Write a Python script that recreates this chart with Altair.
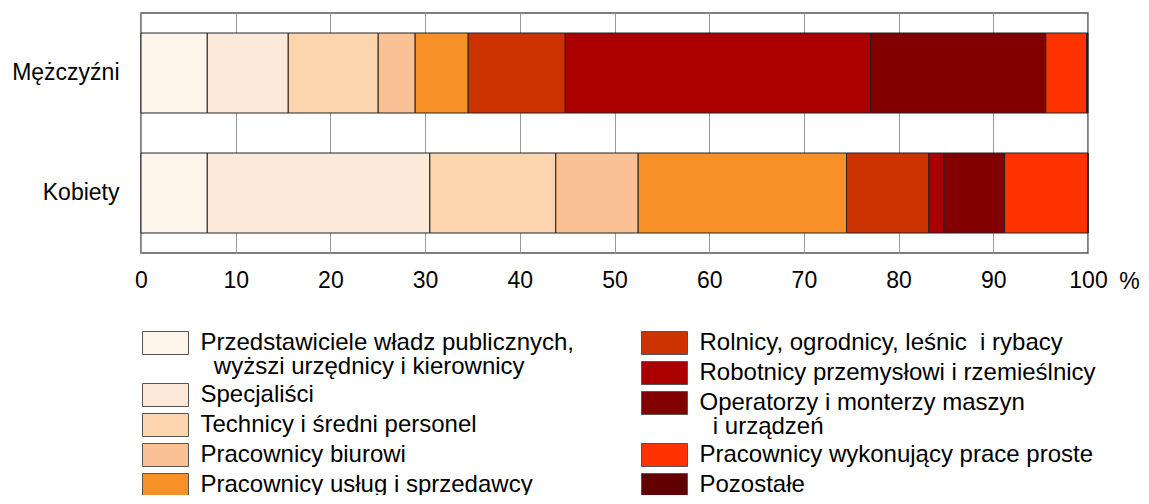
import altair as alt
import pandas as pd

groups = ["Mężczyźni", "Kobiety"]
categories = [
    "Przedstawiciele władz publicznych,\n\u200b\u00a0\u00a0wyższi urzędnicy i kierownicy",
    "Specjaliści",
    "Technicy i średni personel",
    "Pracownicy biurowi",
    "Pracownicy usług i sprzedawcy",
    "Rolnicy, ogrodnicy, leśnic\u00a0 i rybacy",
    "Robotnicy przemysłowi i rzemieślnicy",
    "Operatorzy i monterzy maszyn\n\u200b\u00a0\u00a0i urządzeń",
    "Pracownicy wykonujący prace proste",
    "Pozostałe",
]
colors = ["#FDF4EA", "#FCE9DA", "#FCD4AE", "#F9C194", "#F79027",
          "#CC3300", "#AA0000", "#820000", "#FF3300", "#600000"]
men = [7.0, 8.55, 9.5, 3.9, 5.6, 10.25, 32.25, 18.5, 4.3, 0.15]
women = [7.0, 23.5, 13.3, 8.7, 22.0, 8.7, 1.6, 6.4, 8.8, 0.0]
x_ticks = list(range(0, 101, 10))

rows = []
for g, vals in zip(groups, [men, women]):
    for i, (c, v) in enumerate(zip(categories, vals)):
        rows.append({"group": g, "category": c, "order": i, "value": v})
df = pd.DataFrame(rows)

FONT = "Liberation Sans"
FS = 23
LFS = 24

base = alt.Chart(df).transform_stack(
    stack="value", groupby=["group"], as_=["x0", "x1"],
    sort=[alt.SortField("order", order="ascending")],
)

x_enc = alt.X(
    "x0:Q",
    scale=alt.Scale(domain=[0, 100], nice=False),
    axis=alt.Axis(
        values=x_ticks, title="%", titleX=988, titleY=28, titleAlign="center",
        titleBaseline="middle", titleFontSize=FS, titleFontWeight="normal",
        titleFont=FONT, titleColor="black", titleAngle=0,
        labelFontSize=FS, labelFont=FONT, labelColor="black", labelPadding=16,
        labelFlush=False,
        ticks=False, domain=False, grid=True, gridColor="#999999", gridWidth=1,
    ),
)
y_enc = alt.Y(
    "group:N", sort=groups,
    scale=alt.Scale(paddingInner=1 / 3, paddingOuter=1 / 6),
    axis=alt.Axis(title=None, labelFontSize=FS, labelFont=FONT, labelColor="black",
                  labelPadding=22, ticks=False, domain=False, grid=False),
)

rect_path = "M-2,-1L2,-1L2,1L-2,1Z"
def legend(lx, ly):
    return alt.Legend(
        title=None, orient="none", legendX=lx, legendY=ly, padding=0,
        symbolType=rect_path, symbolSize=529, symbolOffset=11.5,
        symbolStrokeColor="#555555", symbolStrokeWidth=1, symbolOpacity=1,
        labelFontSize=LFS, labelFont=FONT, labelColor="black",
        labelOffset=23, labelLimit=0, rowPadding=2,
        labelExpr="split(datum.label, '\\n')",
    )

layer_a = base.transform_filter("datum.order < 5").mark_bar(
    stroke="#222222", strokeWidth=1
).encode(
    x=x_enc, x2="x1:Q", y=y_enc,
    color=alt.Color("category:N", scale=alt.Scale(domain=categories[:5], range=colors[:5]),
                    legend=legend(1, 318)),
)
layer_b = base.transform_filter("datum.order >= 5").mark_bar(
    stroke="#222222", strokeWidth=1
).encode(
    x=x_enc, x2="x1:Q", y=y_enc,
    fill=alt.Fill("category:N", scale=alt.Scale(domain=categories[5:], range=colors[5:]),
                  legend=legend(500, 318)),
)

chart = alt.layer(layer_a, layer_b).properties(
    width=947, height=240,
    autosize=alt.AutoSizeParams(type="none"),
    padding={"left": 133, "top": 5, "right": 53, "bottom": 242},
).configure(
    background="white",
    style={"guide-label": {"lineHeight": 24}},
    view=alt.ViewConfig(stroke="#555555", strokeWidth=1.5),
)

chart.save("out.html", embed_options={"renderer": "svg", "actions": False})
